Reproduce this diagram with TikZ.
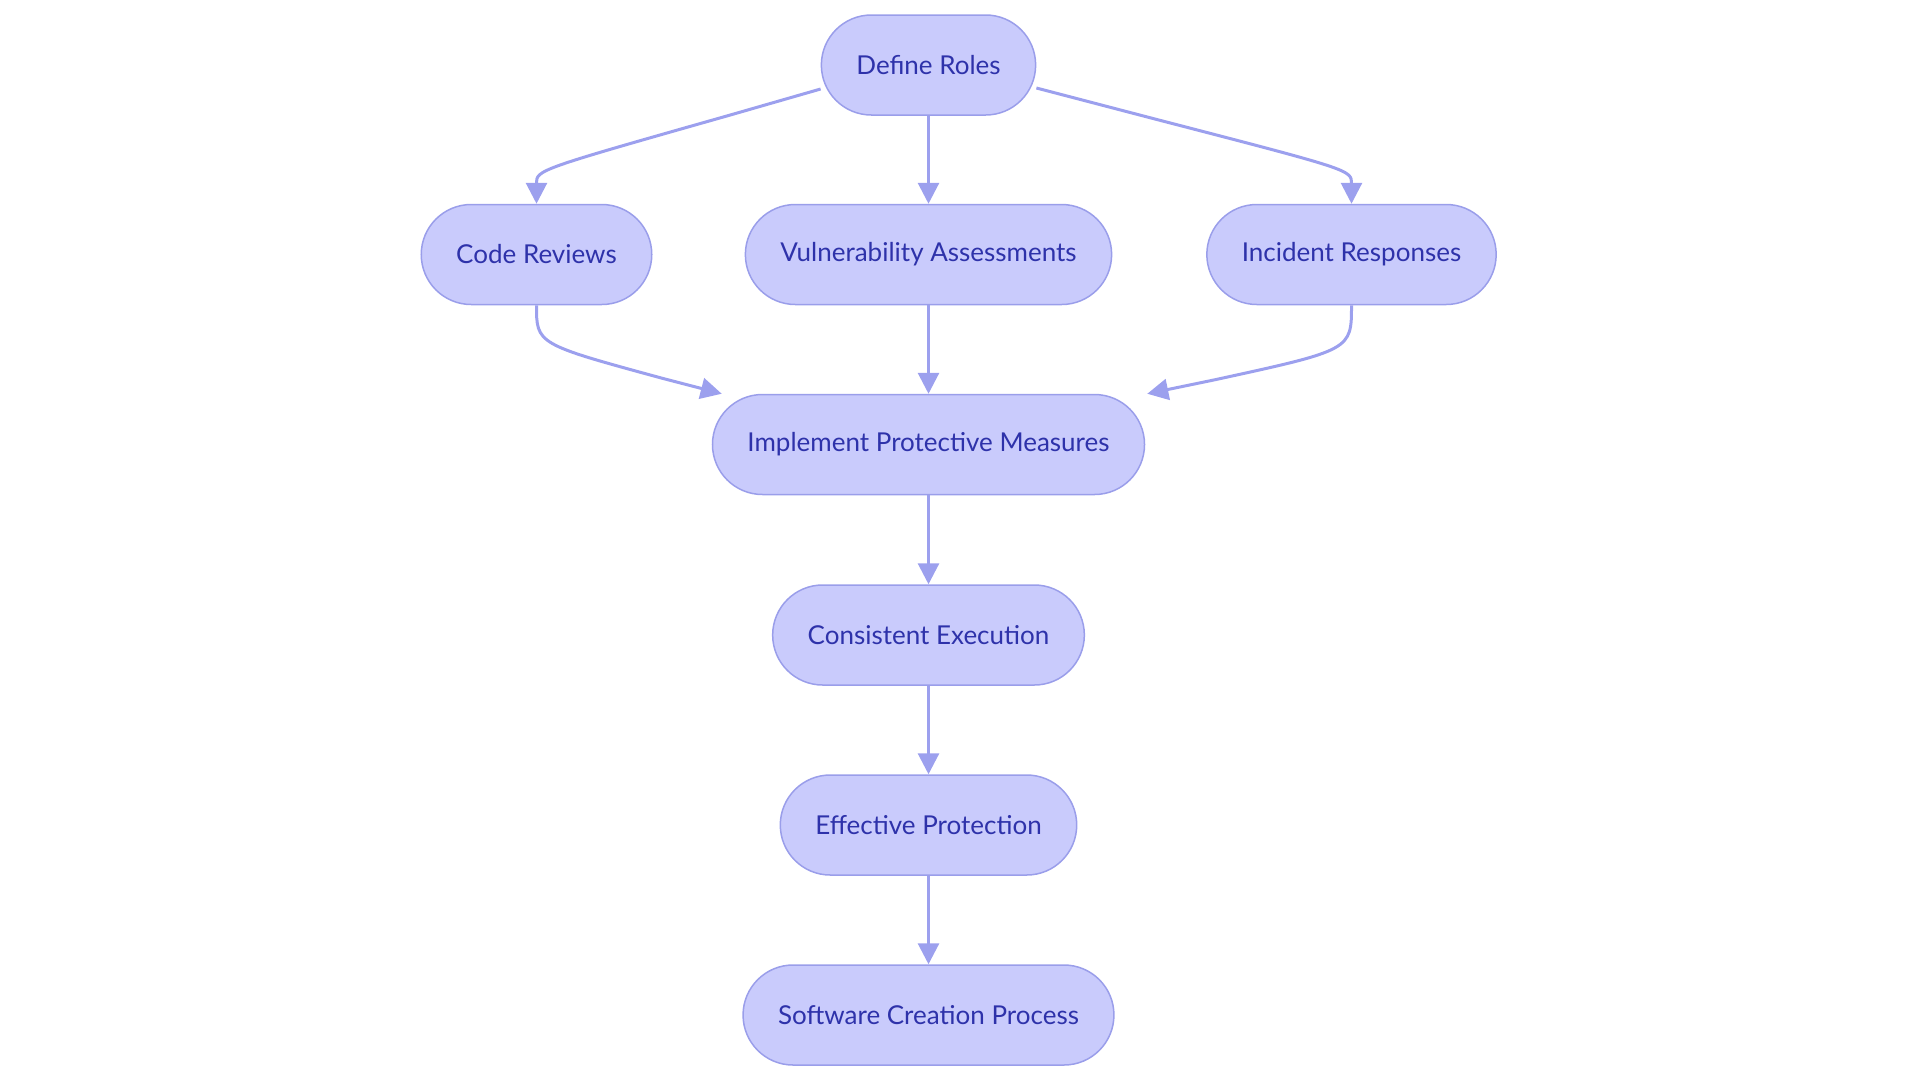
\documentclass[tikz,border=0pt]{standalone}
\usepackage{fontspec}
\setmainfont{Lato}
\usetikzlibrary{arrows.meta}
\definecolor{boxFill}{HTML}{C9CBFC}
\definecolor{boxLine}{HTML}{9A9EEA}
\definecolor{linkLine}{HTML}{9CA0EE}
\definecolor{boxText}{HTML}{2E32AA}

\begin{document}
\begin{tikzpicture}[x=1pt, y=-1pt,
  box/.style={draw=boxLine, line width=1.5pt, fill=boxFill, text=boxText,
    rounded corners=50pt, minimum height=100pt, inner xsep=35pt,
    font=\fontsize{26}{30}\selectfont},
  link/.style={draw=linkLine, line width=3pt,
    -{Triangle[length=21pt,width=21pt]}}]
 	\useasboundingbox (0,0) rectangle (1920,1080);
 	% top
 	\node[box] (roles) at (928.5,65) {Define Roles};
 	% second row
 	\node[box] (code) at (536.5,254.5) {Code Reviews};
 	\node[box] (vuln) at (928.5,254.5) {Vulnerability Assessments};
 	\node[box] (incident) at (1351.5,254.5) {Incident Responses};
 	% chain
 	\node[box] (measures) at (928.5,444.5) {Implement Protective Measures};
 	\node[box] (execution) at (928.5,635) {Consistent Execution};
 	\node[box] (protection) at (928.5,825) {Effective Protection};
 	\node[box] (process) at (928.5,1015) {Software Creation Process};
 	% bends
 	\coordinate (cl) at (536.5,170);
 	\coordinate (cl1) at (728.9,115.4);
 	\coordinate (cr) at (1351.5,170);
 	\coordinate (cr1) at (1158,119.8);
 	\coordinate (dl) at (536.5,344);
 	\coordinate (dl1) at (662,378.2);
 	\coordinate (dr) at (1351.5,350);
 	\coordinate (dr1) at (1214.7,379.8);
	\draw[link] ([yshift=-24pt]roles.west) -- (cl1) .. controls (cl) .. (code.north);
	\draw[link] (roles) -- (vuln);
	\draw[link] ([yshift=-23pt]roles.east) -- (cr1) .. controls (cr) .. (incident.north);
	\draw[link] (code.south) .. controls (dl) .. (dl1) -- ([xshift=10pt]measures.north west);
	\draw[link] (vuln) -- (measures);
	\draw[link] (incident.south) .. controls (dr) .. (dr1) -- ([xshift=2pt]measures.north east);
	\draw[link] (measures) -- (execution);
	\draw[link] (execution) -- (protection);
	\draw[link] (protection) -- (process);
\end{tikzpicture}
\end{document}
